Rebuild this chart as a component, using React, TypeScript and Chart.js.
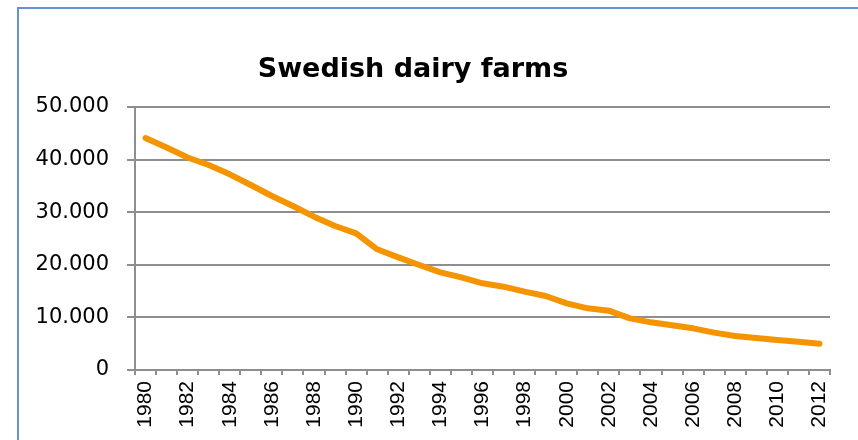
import React, { useEffect, useRef } from 'react';
import { Chart, registerables } from 'chart.js';

Chart.register(...registerables);

const chartTitle = 'Swedish dairy farms';

const years = [
  '1980', '1981', '1982', '1983', '1984', '1985', '1986', '1987', '1988', '1989',
  '1990', '1991', '1992', '1993', '1994', '1995', '1996', '1997', '1998', '1999',
  '2000', '2001', '2002', '2003', '2004', '2005', '2006', '2007', '2008', '2009',
  '2010', '2011', '2012',
];

const farms = [
  44100, 42300, 40400, 38970, 37200, 35170, 33080, 31180, 29150, 27380,
  25990, 22950, 21420, 19960, 18570, 17620, 16480, 15840, 14890, 14070,
  12680, 11730, 11280, 9820, 9060, 8490, 7920, 7100, 6460, 6080,
  5700, 5390, 5000,
];

const yMin = 0;
const yMax = 50000;
const yStep = 10000;

const formatThousands = (v: number) =>
  String(v).replace(/\B(?=(\d{3})+(?!\d))/g, '.');

const framePlugin = {
  id: 'frameAndTitle',
  beforeDraw(chart: any) {
    const { ctx, width, height } = chart;
    ctx.save();
    ctx.fillStyle = '#ffffff';
    ctx.fillRect(0, 0, width, height);
    ctx.strokeStyle = '#6492D4';
    ctx.lineWidth = 2;
    ctx.beginPath();
    ctx.moveTo(18, height + 5);
    ctx.lineTo(18, 8);
    ctx.lineTo(width + 5, 8);
    ctx.stroke();
    ctx.restore();
  },
  afterDraw(chart: any) {
    const { ctx } = chart;
    ctx.save();
    ctx.fillStyle = '#000000';
    ctx.font = 'bold 27px "DejaVu Sans"';
    ctx.textAlign = 'center';
    ctx.textBaseline = 'alphabetic';
    ctx.fillText(chartTitle, 413, 77);
    ctx.restore();
  },
};

export default function App() {
  const ref = useRef<HTMLCanvasElement | null>(null);

  useEffect(() => {
    document.body.style.margin = '0';
    document.body.style.overflow = 'hidden';
    const canvas = ref.current;
    if (!canvas) return;
    const chart = new Chart(canvas, {
      type: 'line',
      data: {
        labels: years,
        datasets: [
          {
            label: chartTitle,
            data: farms,
            borderColor: '#F39400',
            backgroundColor: '#F39400',
            borderWidth: 6,
            pointRadius: 0,
            tension: 0,
            borderCapStyle: 'round',
            borderJoinStyle: 'round',
            fill: false,
          },
        ],
      },
      options: {
        responsive: false,
        animation: false,
        devicePixelRatio: 1,
        layout: { padding: { top: 107, right: 28, bottom: 0, left: 0 } },
        plugins: {
          legend: { display: false },
          title: { display: false },
          tooltip: { enabled: false },
        },
        scales: {
          x: {
            type: 'category',
            offset: true,
            afterFit: (scale: any) => {
              scale.height = 70;
            },
            grid: {
              display: true,
              offset: true,
              drawOnChartArea: false,
              drawTicks: true,
              tickLength: 5,
              color: '#8E8E8E',
              lineWidth: 2,
            },
            border: { display: true, color: '#8E8E8E', width: 2 },
            ticks: {
              autoSkip: false,
              minRotation: 90,
              maxRotation: 90,
              padding: 6,
              color: '#000000',
              font: { family: '"Liberation Sans Narrow", "Liberation Sans"', size: 21 },
              callback: function (this: any, _v: any, idx: number) {
                return idx % 2 === 0 ? years[idx] : '';
              },
            },
          },
          y: {
            min: yMin,
            max: yMax,
            afterFit: (scale: any) => {
              scale.width = 135;
            },
            grid: {
              display: true,
              color: '#8E8E8E',
              lineWidth: 2,
              drawTicks: true,
              tickLength: 8,
            },
            border: { display: true, color: '#8E8E8E', width: 2 },
            ticks: {
              stepSize: yStep,
              padding: 18,
              color: '#000000',
              font: { family: '"DejaVu Sans"', size: 21 },
              callback: (v: any) => formatThousands(Number(v)),
            },
          },
        },
      },
      plugins: [framePlugin],
    });
    return () => chart.destroy();
  }, []);

  return (
    <div style={{ width: 858, height: 440 }}>
      <canvas ref={ref} width={858} height={440} style={{ display: 'block' }} />
    </div>
  );
}
